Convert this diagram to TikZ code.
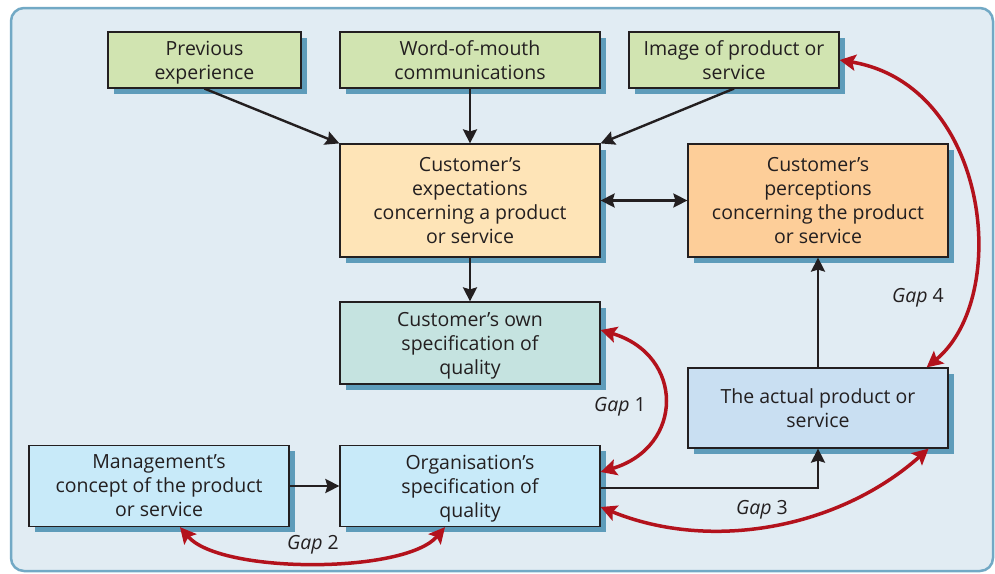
\documentclass[tikz,border=0pt]{standalone}
\usepackage{fontspec}
\setmainfont{Open Sans}
\usetikzlibrary{arrows.meta,shadows}
\definecolor{panelfill}{HTML}{E1ECF3}
\definecolor{paneldraw}{HTML}{72A9C5}
\definecolor{shadowblue}{HTML}{5E9CBA}
\definecolor{boxgreen}{HTML}{D1E4B1}
\definecolor{boxcream}{HTML}{FEE4B7}
\definecolor{boxpeach}{HTML}{FDCE99}
\definecolor{boxteal}{HTML}{C5E3E0}
\definecolor{boxsky}{HTML}{C9DFF2}
\definecolor{boxcyan}{HTML}{C8EAF9}
\definecolor{gapred}{HTML}{B3121C}
\definecolor{inkline}{HTML}{231F20}
\tikzset{
  box/.style={draw=inkline,line width=1.2pt,align=center,inner sep=0pt,text depth=0pt,
    drop shadow={shadow xshift=5.5pt,shadow yshift=-5.5pt,fill=shadowblue,opacity=1}},
  arr/.style={draw=inkline,line width=2.4pt,-{Stealth[length=14pt,width=14pt,inset=2pt]}},
  twoarr/.style={draw=inkline,line width=2.4pt,{Stealth[length=14pt,width=14pt,inset=2pt]}-{Stealth[length=14pt,width=14pt,inset=2pt]}},
  gapline/.style={draw=gapred,line width=3.5pt,{Stealth[length=16pt,width=16pt,inset=3pt]}-{Stealth[length=16pt,width=16pt,inset=3pt]}}
}
\begin{document}
\begin{tikzpicture}[x=1pt,y=-1pt,every node/.style={font=\fontsize{19.5}{24}\selectfont,text=inkline}]
\useasboundingbox (0,0) rectangle (995,573);
\draw[paneldraw,fill=panelfill,line width=2.5pt,rounded corners=13pt] (11,8) rectangle (993,571);
% top row
\node[box,fill=boxgreen,minimum width=193pt,minimum height=56pt] (prev) at (204.5,60) {Previous\\experience};
\node[box,fill=boxgreen,minimum width=260pt,minimum height=56pt] (wom) at (470,60) {Word-of-mouth\\communications};
\node[box,fill=boxgreen,minimum width=210pt,minimum height=56pt] (img) at (734,60) {Image of product or\\service};
% middle
\node[box,fill=boxcream,minimum width=260pt,minimum height=113pt] (expect) at (470,200.5) {Customer's\\expectations\\concerning a product\\or service};
\node[box,fill=boxpeach,minimum width=260pt,minimum height=113pt] (percept) at (818,200.5) {Customer's\\perceptions\\concerning the product\\or service};
\node[box,fill=boxteal,minimum width=260pt,minimum height=82pt] (ownspec) at (470,343) {Customer's own\\specification of\\quality};
\node[box,fill=boxsky,minimum width=260pt,minimum height=80pt] (actual) at (818,408) {The actual product or\\service};
% bottom row
\node[box,fill=boxcyan,minimum width=260pt,minimum height=81pt] (mgmt) at (159,486) {Management's\\concept of the product\\or service};
\node[box,fill=boxcyan,minimum width=260pt,minimum height=81pt] (orgspec) at (470,486) {Organisation's\\specification of\\quality};
% black connectors
\draw[arr] (prev.south) -- (expect.north west);
\draw[arr] (wom) -- (expect);
\draw[arr] (img.south) -- (expect.north east);
\draw[twoarr] (expect) -- (percept);
\draw[arr] (expect) -- (ownspec);
\draw[arr] (mgmt) -- (orgspec);
\draw[arr] ([yshift=-2pt]orgspec.east) -| (actual.south);
\draw[arr] (actual) -- (percept);
% gaps
\draw[gapline] ([yshift=13pt]ownspec.east) .. controls +(84,25) and +(84,-25) .. ([yshift=14pt]orgspec.east);
\draw[gapline] ([xshift=21pt]mgmt.south) .. controls +(40,47) and +(-40,47) .. ([xshift=-25pt]orgspec.south);
\draw[gapline] ([yshift=-21pt]orgspec.east) .. controls +(110,45) and +(-90,80) .. ([xshift=-20pt]actual.south east);
\draw[gapline] (img.east) .. controls +(150,25) and +(85,-70) .. ([xshift=-22pt]actual.north east);
\node (gapone) at (620,407) {\textit{Gap} 1};
\node (gaptwo) at (313,545) {\textit{Gap} 2};
\node (gapthree) at (762,510) {\textit{Gap} 3};
\node (gapfour) at (918,298) {\textit{Gap} 4};
\end{tikzpicture}
\end{document}
